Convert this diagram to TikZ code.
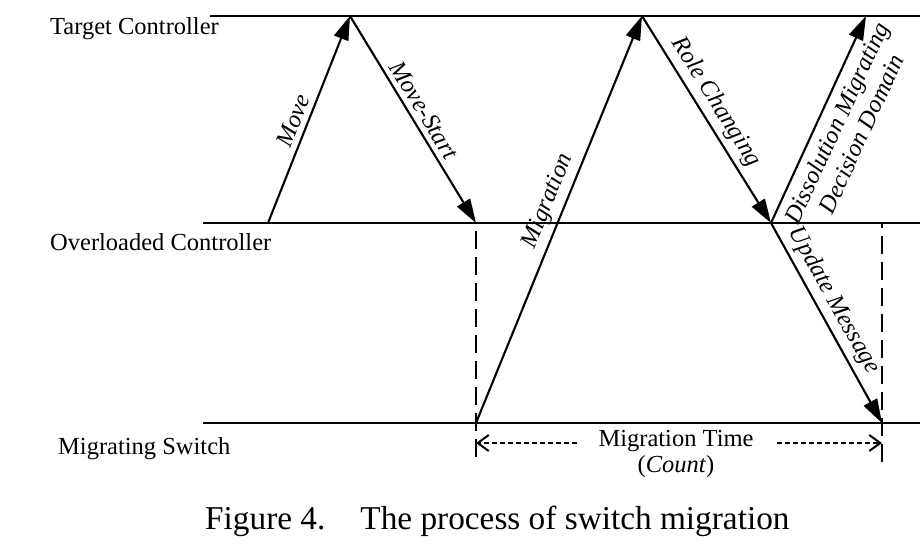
\documentclass[tikz,border=0pt]{standalone}
\usepackage{fontspec}
\setmainfont{Liberation Serif}
\usetikzlibrary{arrows.meta}
\begin{document}
\begin{tikzpicture}[x=1pt,y=-1pt,
  lane/.style={line width=2.6pt},
  msg/.style={line width=2.1pt,-{Triangle[length=24pt,width=15pt]}},
  lbl/.style={font=\fontsize{24.5}{27}\selectfont\itshape, sloped, inner sep=5pt},
  guide/.style={line width=2pt,dash pattern=on 18pt off 8pt},
  span/.style={line width=1.6pt,dash pattern=on 5pt off 3pt,-{Straight Barb[length=11pt,width=16pt,line width=2pt]}},
  lanename/.style={font=\fontsize{24.5}{29}\selectfont, anchor=base west, inner sep=0pt},
  plain/.style={font=\fontsize{24.5}{29}\selectfont, anchor=base, inner sep=0pt}]
\useasboundingbox (0,0) rectangle (920,556);

% lane names
\node[lanename] (tcn) at (50,35) {Target Controller};
\node[lanename] (ocn) at (50,250) {Overloaded Controller};
\node[lanename] (msn) at (58,454) {Migrating Switch};

% lane end points
\coordinate (t0) at (210,16);  \coordinate (t1) at (920,16);
\coordinate (o0) at (203,223); \coordinate (o1) at (920,223);
\coordinate (s0) at (203,423); \coordinate (s1) at (920,423);

% message points
\coordinate (a) at (268,223);
\coordinate (b) at (350,16);
\coordinate (c) at (476,223);
\coordinate (d) at (476,423);
\coordinate (e) at (642,16);
\coordinate (f) at (771,223);
\coordinate (g) at (866,16);
\coordinate (h) at (882,423);
\coordinate (h0) at (882,223);
\coordinate (c2) at (476,457);
\coordinate (h2) at (882,465);

\draw[lane] (t0) -- (t1);
\draw[lane] (o0) -- (o1);
\draw[lane] (s0) -- (s1);

\draw[msg] (a) -- node[lbl,above,pos=0.47] {Move} (b);
\draw[msg] (b) -- node[lbl,above,pos=0.49] {Move-Start} (c);
\draw[msg] (d) -- node[lbl,above,pos=0.53] {Migration} (e);
\draw[msg] (e) -- node[lbl,above,pos=0.46] {Role Changing} (f);
\draw[msg] (f) -- node[lbl,below,pos=0.52,align=center,inner sep=8pt] {Dissolution Migrating\\Decision Domain} (g);
\draw[msg] (f) -- node[lbl,above,pos=0.43] {Update Message} (h);

\draw[guide,dash phase=18pt] (c) -- (c2);
\draw[guide,dash phase=13pt] (h0) -- (h2);

% migration time
\node[plain] (mt) at (676,446) {Migration Time};
\node[plain] (mc) at (676,472) {(\textit{Count})};
\coordinate (ml) at (577,443);
\coordinate (mr) at (777,443);
\draw[span] (ml) -- (c|-ml);
\draw[span] (mr) -- (h|-mr);

% caption
\node[font=\fontsize{33.3}{40}\selectfont, anchor=base west, inner sep=0pt] (cap) at (205,529) {Figure 4.\hspace{35pt}The process of switch migration};
\end{tikzpicture}
\end{document}
